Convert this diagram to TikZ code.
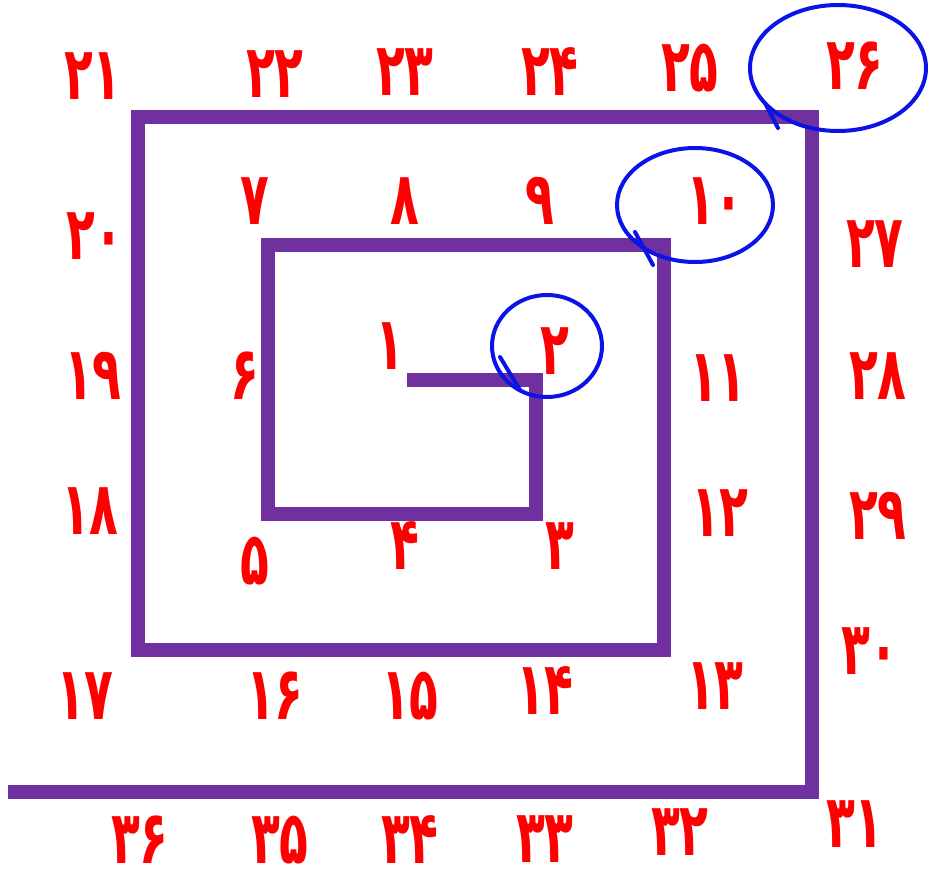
\documentclass[tikz,border=0pt]{standalone}
\usepackage{fontspec}
\newfontfamily\numfont[Script=Arabic]{DejaVu Sans}
\definecolor{spiralpurple}{HTML}{7030A0}
\definecolor{numred}{HTML}{FF0000}
\definecolor{ringblue}{HTML}{0A14E6}
\usetikzlibrary{positioning}
\newcommand{\narrow}[1]{\scalebox{0.64}[1]{#1}}

\begin{document}
\begin{tikzpicture}[
    x=0.02cm, y=-0.02cm,
    num/.style={text=numred, font=\numfont\bfseries\fontsize{42}{42}\selectfont, inner sep=0pt},
    spiral/.style={draw=spiralpurple, line width=0.29cm, line join=miter},
    ring/.style={draw=ringblue, line width=0.08cm, line cap=round}
]
\useasboundingbox (0,0) rectangle (931,883);

% the spiral
\draw[spiral] (407,380) -- (536,380) -- (536,514) -- (268,514) -- (268,245)
    -- (664,245) -- (664,650) -- (138,650) -- (138,117) -- (812,117)
    -- (812,792) -- (8,792);

% numbers
\foreach \x/\y/\t [count=\i] in {
    93/80/۲۱, 275/78/۲۲, 405/76/۲۳, 550/76/۲۴, 690/72/۲۵, 855/70/۲۶,
    95/240/۲۰, 255/205/۷, 405/205/۸, 540/205/۹, 715/205/۱۰, 875/248/۲۷,
    93/380/۱۹, 245/380/۶, 390/350/۱, 555/355/۲, 718/382/۱۱, 878/380/۲۸,
    90/515/۱۸, 255/565/۵, 405/550/۴, 560/550/۳, 720/517/۱۲, 878/520/۲۹,
    85/700/۱۷, 275/700/۱۶, 410/700/۱۵, 545/695/۱۴, 715/690/۱۳, 870/655/۳۰,
    140/844/۳۶, 280/844/۳۵, 410/844/۳۴, 545/843/۳۳, 680/836/۳۲, 855/828/۳۱}
    \node[num] (n\i) at (\x,\y-4) {\narrow{\t}};

% circled numbers
\draw[ring] (838,68) ellipse [x radius=88, y radius=63];
\draw[ring] (765,103) -- (778,128);
\draw[ring] (695,205) ellipse [x radius=78, y radius=57];
\draw[ring] (635,232) -- (653,265);
\draw[ring] (547,346) ellipse [x radius=55, y radius=51];
\draw[ring] (500,357) -- (520,390);
\end{tikzpicture}
\end{document}
